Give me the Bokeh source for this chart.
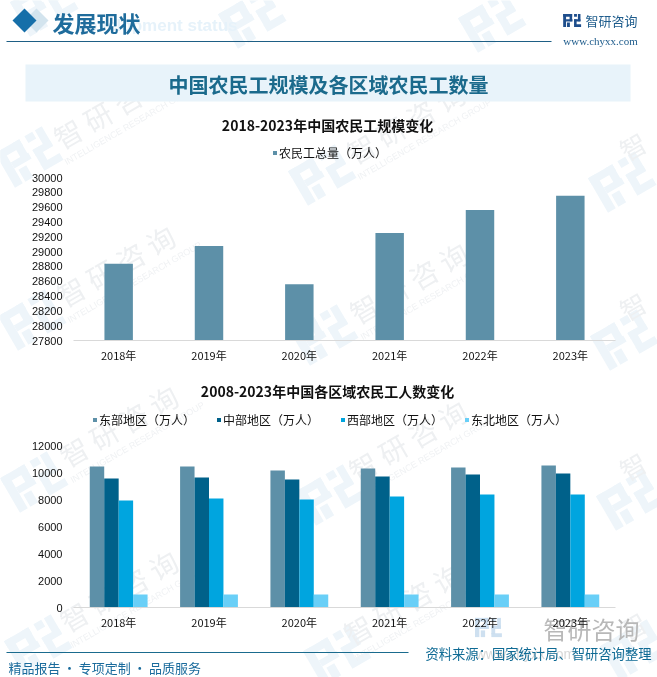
import math
import numpy as np
from bokeh.embed import file_html
from bokeh.resources import INLINE
from bokeh.layouts import column, row
from bokeh.plotting import figure
from bokeh.models import Range1d, FactorRange, ColumnDataSource, Legend, LegendItem, FixedTicker
from bokeh.transform import dodge
from bokeh.core.properties import value

years = ["2018年", "2019年", "2020年", "2021年", "2022年", "2023年"]
total = [28836, 29077, 28560, 29251, 29562, 29753]
east = [10444, 10444, 10148, 10296, 10370, 10518]
central = [9555, 9630, 9481, 9704, 9852, 9926]
west = [7926, 8074, 8000, 8222, 8370, 8370]
northeast = [963, 970, 955, 960, 965, 970]
ticks1 = list(range(27800, 30001, 200))
ticks2 = list(range(0, 12001, 2000))

C_TOTAL = "#5D90A8"
COLORS = ["#5D90A8", "#00618A", "#00A5DF", "#69CFF7"]
NAMES = ["东部地区（万人）", "中部地区（万人）", "西部地区（万人）", "东北地区（万人）"]
CJK = "Noto Sans CJK SC"

W, H = 657, 677
bg = figure(width=W, height=H, x_range=Range1d(0, W), y_range=Range1d(H, 0),
            output_backend="svg", toolbar_location=None, min_border=0,
            x_axis_type=None, y_axis_type=None, outline_line_color=None)
bg.grid.visible = False
bg.styles = {"position": "fixed", "left": "0px", "top": "0px"}


def rot(x, y, a=math.radians(30)):
    return x * math.cos(a) + y * math.sin(a), -x * math.sin(a) + y * math.cos(a)


LOGO = [(-26, -20, 9, 40), (-26, -20, 28, 8), (-6, -20, 8, 22), (-17, -4, 20, 7),
        (8, -20, 9, 8), (20, -20, 8, 22), (8, -4, 20, 7), (8, -4, 8, 18), (8, 12, 22, 8),
        (-14, 6, 9, 14)]


def logo(cx, cy, s=1.0, color="#EEF5FA", alpha=1.0, angle=True):
    xs, ys = [], []
    for (x, y, w, h) in LOGO:
        pts = [(x, y), (x + w, y), (x + w, y + h), (x, y + h)]
        px, py = [], []
        for a, b in pts:
            if angle:
                a, b = rot(a, b)
            px.append(cx + a * s)
            py.append(cy + b * s)
        xs.append(px)
        ys.append(py)
    bg.patches(xs, ys, fill_color=color, line_color=None, fill_alpha=alpha)


for c in [(42, 6), (250, 18), (490, 22), (27, 157), (320, 175), (620, 182), (30, 320), (322, 335),
          (622, 340), (32, 482), (328, 495), (628, 500), (36, 645), (335, 655), (632, 650)]:
    logo(*c)

wm_x, wm_y, sub_x, sub_y = [], [], [], []
for (x, y) in [(112, 107), (405, 122), (115, 265), (408, 282), (118, 425), (407, 440),
               (118, 590), (402, 603)]:
    wm_x.append(x)
    wm_y.append(y)
    dx, dy = rot(8, 24)
    sub_x.append(x + dx)
    sub_y.append(y + dy)
bg.text(wm_x, wm_y, text=["智 研 咨 询"] * len(wm_x), angle=math.radians(30), text_align="center",
        text_baseline="middle", text_color="#EEF0F2", text_font_size="28px", text_font=value(CJK))
bg.text(sub_x, sub_y, text=["INTELLIGENCE RESEARCH GROUP"] * len(sub_x), angle=math.radians(30),
        text_align="center", text_baseline="middle", text_color="#F0F2F4", text_font_size="9px",
        text_font=value("Liberation Sans"))
bg.text([632, 632, 632, 632], [145, 305, 465, 625], text=["智"] * 4, angle=math.radians(30),
        text_align="center", text_baseline="middle", text_color="#EEF0F2", text_font_size="26px",
        text_font=value(CJK))

# Header
bg.text([237], [25], text=["Development status"], text_align="right", text_baseline="middle",
        text_color="#E6F2FA", text_font_size="17px", text_font=value("Liberation Sans"),
        text_font_style="bold")
bg.patches([[36 - 12, 36, 36 + 12, 36], [24 - 12, 24, 24 + 12, 24]],
           [[20, 8, 20, 32], [20, 8, 20, 32]],
           fill_color=["#D3E4EE", "#166FA9"], line_color=None)
bg.text([52], [21], text=["发展现状"], text_align="left", text_baseline="middle", text_color="#1F6C9C",
        text_font_size="22px", text_font=value(CJK), text_font_style="bold")
bg.line([6, 551], [41, 41], line_color="#1E5F85", line_width=1.2)
logo(571, 20, 0.32, "#1E4E8C", 1.0, angle=False)
bg.text([585], [20], text=["智研咨询"], text_align="left", text_baseline="middle", text_color="#1E5C8C",
        text_font_size="13px", text_font=value(CJK))
bg.text([600], [40], text=["www.chyxx.com"], text_align="center", text_baseline="middle",
        text_color="#1E5C8C", text_font_size="11px", text_font=value("Liberation Serif"))

# Banner
bg.quad(left=[25], right=[630], top=[64], bottom=[101], fill_color="#E8F3FA", line_color=None)
bg.text([328], [84], text=["中国农民工规模及各区域农民工数量"], text_align="center", text_baseline="middle",
        text_color="#1B6A8C", text_font_size="20px", text_font=value(CJK), text_font_style="bold")

# Sub-titles
bg.text([327, 327], [124, 390], text=["2018-2023年中国农民工规模变化", "2008-2023年中国各区域农民工人数变化"],
        text_align="center", text_baseline="middle", text_color="#111111", text_font_size="14px",
        text_font=value(CJK), text_font_style="bold")

# Footer
logo(487, 627, 0.48, "#C9DDEE", 0.9, angle=False)
bg.text([591], [628], text=["智研咨询"], text_align="center", text_baseline="middle", text_color="#B8B8B8",
        text_font_size="24px", text_font=value(CJK))
bg.text([525], [653], text=["www.chyxx.com"], text_align="center", text_baseline="middle",
        text_color="#D8D8D8", text_font_size="14px", text_font=value("Liberation Sans"))
bg.line([6, 408], [652, 652], line_color="#1A6B8E", line_width=1.2)
bg.text([8], [667], text=["精品报告\u2009·\u2009专项定制\u2009·\u2009品质服务"], text_align="left", text_baseline="middle",
        text_color="#1A6B9C", text_font_size="13px", text_font=value(CJK))
bg.text([651], [653], text=["资料来源：国家统计局、智研咨询整理"], text_align="right", text_baseline="middle",
        text_color="#0E6A94", text_font_size="13.3px", text_font=value(CJK))


def chart(top, height, mb, y_start, y_end, ticks):
    p = figure(width=W, height=height, x_range=FactorRange(*years), y_range=Range1d(y_start, y_end),
               output_backend="svg", toolbar_location=None, min_border_left=73, min_border_right=42,
               min_border_top=0, min_border_bottom=mb, outline_line_color=None,
               background_fill_alpha=0, border_fill_alpha=0)
    p.styles = {"position": "fixed", "left": "0px", "top": f"{top}px"}
    p.grid.visible = False
    p.yaxis.ticker = FixedTicker(ticks=ticks)
    p.yaxis.axis_line_color = None
    p.yaxis.major_tick_line_color = None
    p.yaxis.minor_tick_line_color = None
    p.yaxis.major_label_standoff = 5
    p.yaxis.major_label_text_font = "Liberation Sans"
    p.yaxis.major_label_text_font_size = "11px"
    p.yaxis.major_label_text_color = "#111111"
    p.xaxis.axis_line_color = "#D9D9D9"
    p.xaxis.major_tick_line_color = None
    p.xaxis.minor_tick_line_color = None
    p.xaxis.major_label_standoff = 0
    p.xaxis.major_label_text_font = CJK
    p.xaxis.major_label_text_font_size = "11px"
    p.xaxis.major_label_text_color = "#111111"
    return p


def style_legend(leg):
    leg.orientation = "horizontal"
    leg.border_line_color = None
    leg.background_fill_alpha = 0
    leg.margin = 0
    leg.padding = 0
    leg.glyph_width = 5
    leg.glyph_height = 5
    leg.label_standoff = 2
    leg.label_height = 14
    leg.label_text_font = CJK
    leg.label_text_font_size = "12px"
    leg.label_text_color = "#111111"


# The value ranges run on above the top tick, so that each legend has room inside its frame.
p1 = chart(140, 230, 30, 27800, 27800 + 200 / 163 * 2200, ticks1)
src1 = ColumnDataSource(dict(year=years, total=total))
r1 = p1.vbar(x="year", top="total", bottom=27800, width=0.315, source=src1, fill_color=C_TOTAL, line_color=None)
leg1 = Legend(items=[LegendItem(label="农民工总量（万人）", renderers=[r1])], location=(199, 179))
style_legend(leg1)
p1.add_layout(leg1, "center")

p2 = chart(406, 229, 28, 0, 201 / 162 * 12000, ticks2)
src2 = ColumnDataSource(dict(year=years, east=east, central=central, west=west, northeast=northeast))
rs = []
for key, off, col in zip(["east", "central", "west", "northeast"], [-0.24, -0.08, 0.08, 0.24], COLORS):
    rs.append(p2.vbar(x=dodge("year", off, range=p2.x_range), top=key, bottom=0, width=0.16, source=src2,
                      fill_color=col, line_color=None))
leg2 = Legend(items=[LegendItem(label=n, renderers=[r]) for n, r in zip(NAMES, rs)], location=(19, 179))
style_legend(leg2)
leg2.spacing = 21
p2.add_layout(leg2, "center")

root = column(row(bg), row(p1), row(p2))
open("out.html", "w").write(file_html(root, INLINE))
